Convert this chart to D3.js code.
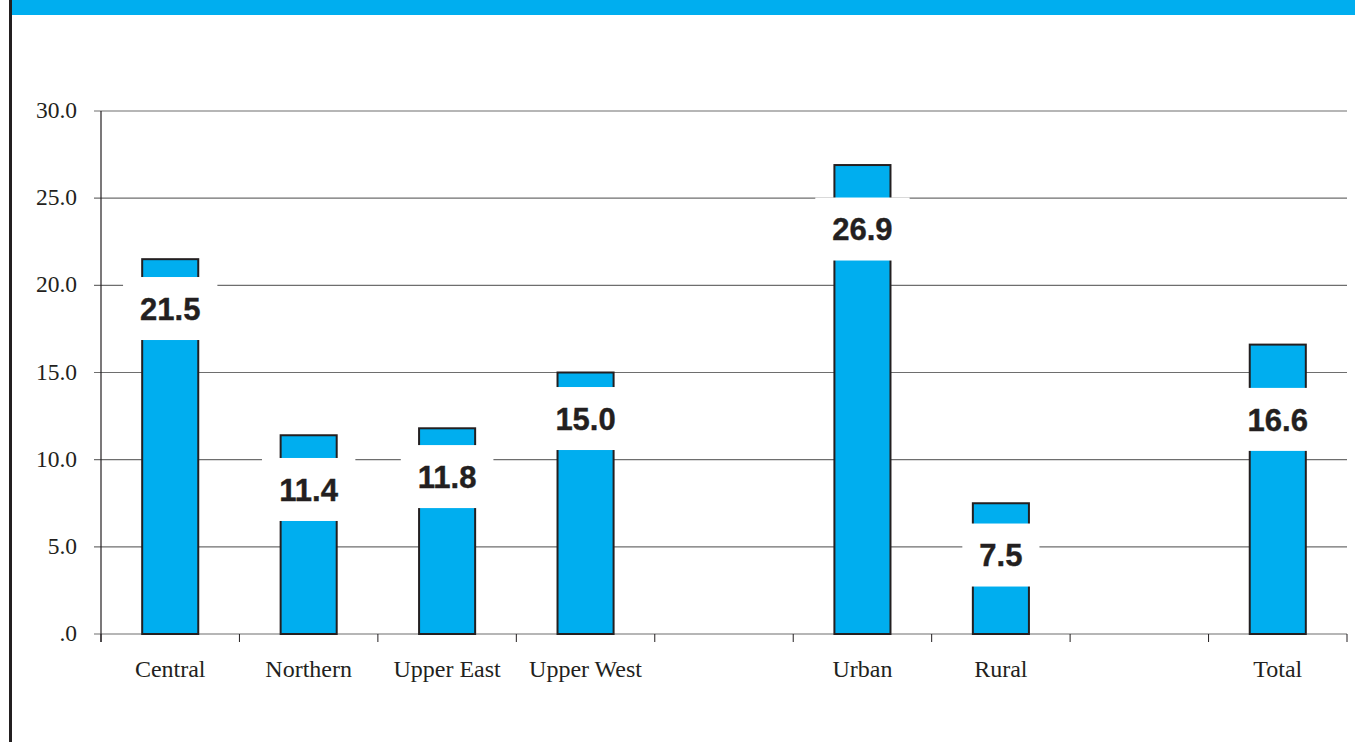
<!DOCTYPE html>
<html>
<head>
<meta charset="utf-8">
<script src="https://cdn.jsdelivr.net/npm/d3@7"></script>
<style>
  html, body { margin: 0; padding: 0; background: #fff; }
  svg { display: block; }
</style>
</head>
<body>
<script>
// ---- data ----
const categories = ["Central", "Northern", "Upper East", "Upper West", "", "Urban", "Rural", "", "Total"];
const values = [21.5, 11.4, 11.8, 15.0, null, 26.9, 7.5, null, 16.6];
// vertical position (in data units) where each value label box is centred
const labelAt = [18.67, 8.29, 9.03, 12.36, null, 23.23, 4.53, null, 12.31];
const yTicks = [0, 5, 10, 15, 20, 25, 30];
const yTickLabels = [".0", "5.0", "10.0", "15.0", "20.0", "25.0", "30.0"];

// ---- layout ----
const W = 1355, H = 742;
const mLeft = 101, mRight = 1347, mTop = 111, mBottom = 634;
const blue = "#00AEEF", ink = "#231F20", grid = "#6e6e6e";

const svg = d3.select("body").append("svg").attr("width", W).attr("height", H);

// top band and left border
svg.append("rect").attr("x", 12).attr("y", 0).attr("width", W - 12).attr("height", 15).attr("fill", blue);
svg.append("rect").attr("x", 9).attr("y", 0).attr("width", 3).attr("height", H).attr("fill", ink);

const x = d3.scaleBand().domain(d3.range(categories.length)).range([mLeft, mRight]).padding(0);
const y = d3.scaleLinear().domain([0, 30]).range([mBottom, mTop]);

// gridlines (incl. baseline)
svg.append("g").selectAll("line").data(yTicks).join("line")
  .attr("x1", mLeft - 7).attr("x2", mRight)
  .attr("y1", d => y(d)).attr("y2", d => y(d))
  .attr("stroke", grid).attr("stroke-width", 1.2);

// y tick labels
svg.append("g").selectAll("text").data(yTicks).join("text")
  .attr("x", 77).attr("y", d => y(d)).attr("dy", "0.3em")
  .attr("text-anchor", "end")
  .attr("font-family", "'Liberation Serif', 'Times New Roman', serif")
  .attr("font-size", 23.5).attr("fill", ink)
  .text((d, i) => yTickLabels[i]);

// x ticks at category boundaries
const bounds = d3.range(categories.length + 1).map(i => i < categories.length ? x(i) : x(categories.length - 1) + x.step());
svg.append("g").selectAll("line").data(bounds).join("line")
  .attr("x1", d => d).attr("x2", d => d)
  .attr("y1", mBottom).attr("y2", mBottom + 8)
  .attr("stroke", ink).attr("stroke-width", 1);

// y axis line
svg.append("line").attr("x1", mLeft).attr("x2", mLeft).attr("y1", mTop).attr("y2", mBottom + 8)
  .attr("stroke", ink).attr("stroke-width", 1.2);

// bars
const bw = x.step() * 0.405;
const idx = d3.range(categories.length).filter(i => values[i] != null);
svg.append("g").selectAll("rect").data(idx).join("rect")
  .attr("x", i => x(i) + x.step() / 2 - bw / 2)
  .attr("width", bw)
  .attr("y", i => y(values[i]))
  .attr("height", i => y(0) - y(values[i]))
  .attr("fill", blue).attr("stroke", ink).attr("stroke-width", 2);

// value labels with white boxes
const lg = svg.append("g");
idx.forEach(i => {
  const cx = x(i) + x.step() / 2;
  const cy = y(labelAt[i]);
  const t = lg.append("text")
    .attr("x", cx).attr("y", cy).attr("dy", "0.36em")
    .attr("text-anchor", "middle")
    .attr("font-family", "'Liberation Sans', Arial, sans-serif")
    .attr("font-weight", "bold").attr("font-size", 31).attr("fill", ink)
    .attr("stroke", ink).attr("stroke-width", 0.4)
    .text(values[i].toFixed(1));
  const bb = t.node().getBBox();
  lg.insert("rect", "text")
    .attr("x", cx - bb.width / 2 - 17).attr("width", bb.width + 34)
    .attr("y", cy - 31.5).attr("height", 63)
    .attr("fill", "#fff");
});

// category labels
svg.append("g").selectAll("text").data(d3.range(categories.length)).join("text")
  .attr("x", i => x(i) + x.step() / 2).attr("y", 669).attr("dy", "0.35em")
  .attr("text-anchor", "middle")
  .attr("font-family", "'Liberation Serif', 'Times New Roman', serif")
  .attr("font-size", 24).attr("fill", ink)
  .text(i => categories[i]);
</script>
</body>
</html>
